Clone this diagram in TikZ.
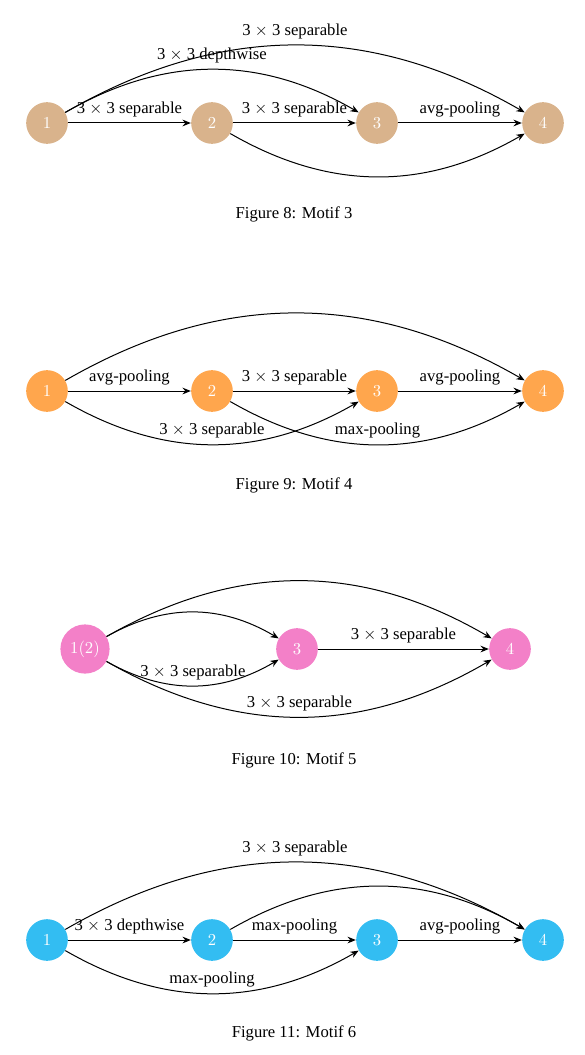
\documentclass[tikz,border=0pt]{standalone}
\usepackage{fontspec}
\setmainfont{Liberation Serif}
\usetikzlibrary{arrows.meta,positioning}
\definecolor{motiftan}{RGB}{217,179,140}
\definecolor{motiforange}{RGB}{255,166,77}
\definecolor{motifpink}{RGB}{243,128,200}
\definecolor{motifblue}{RGB}{51,189,242}
\newcommand{\sep}{3~$\times$~3 separable}
\newcommand{\dw}{3~$\times$~3 depthwise}

\tikzset{
  opnode/.style={circle, fill=#1, text=white, minimum size=25pt},
  oparrow/.style={-{Stealth[length=5pt,width=4pt]}, semithick},
  figcap/.style={font=\normalsize}
}

\begin{document}
\begin{tikzpicture}[x=0.6pt, y=-0.6pt]
  \useasboundingbox (0,0) rectangle (585,1055);

  % Motif 3
  \node[opnode=motiftan] (a1) at (47,123) {$1$};
  \node[opnode=motiftan] (a2) at (212,123) {$2$};
  \node[opnode=motiftan] (a3) at (377,123) {$3$};
  \node[opnode=motiftan] (a4) at (543,123) {$4$};
  \draw[oparrow] (a1) -- node[above] {\sep} (a2);
  \draw[oparrow] (a2) -- node[above] {\sep} (a3);
  \draw[oparrow] (a3) -- node[above] {avg-pooling} (a4);
  \draw[oparrow] (a1) to[bend left] node[above] {\dw} (a3);
  \draw[oparrow] (a1) to[bend left] node[above] {\sep} (a4);
  \draw[oparrow] (a2) to[bend right] (a4);
  \node[figcap] (capa) at (294,214) {Figure 8: Motif 3};

  % Motif 4
  \node[opnode=motiforange] (b1) at (47,391) {$1$};
  \node[opnode=motiforange] (b2) at (212,391) {$2$};
  \node[opnode=motiforange] (b3) at (377,391) {$3$};
  \node[opnode=motiforange] (b4) at (543,391) {$4$};
  \draw[oparrow] (b1) -- node[above] {avg-pooling} (b2);
  \draw[oparrow] (b2) -- node[above] {\sep} (b3);
  \draw[oparrow] (b3) -- node[above] {avg-pooling} (b4);
  \draw[oparrow] (b1) to[bend left] (b4);
  \draw[oparrow] (b1) to[bend right] node[above] {\sep} (b3);
  \draw[oparrow] (b2) to[bend right] node[above] {max-pooling} (b4);
  \node[figcap] (capb) at (294,485) {Figure 9: Motif 4};

  % Motif 5
  \node[opnode=motifpink] (c1) at (85,649) {$1(2)$};
  \node[opnode=motifpink] (c3) at (297,649) {$3$};
  \node[opnode=motifpink] (c4) at (510,649) {$4$};
  \draw[oparrow] (c3) -- node[above] {\sep} (c4);
  \draw[oparrow] (c1) to[bend left] (c3);
  \draw[oparrow] (c1) to[bend right] node[above] {\sep} (c3);
  \draw[oparrow] (c1) to[bend left] (c4);
  \draw[oparrow] (c1) to[bend right] node[above] {\sep} (c4);
  \node[figcap] (capc) at (294,760) {Figure 10: Motif 5};

  % Motif 6
  \node[opnode=motifblue] (d1) at (47,940) {$1$};
  \node[opnode=motifblue] (d2) at (212,940) {$2$};
  \node[opnode=motifblue] (d3) at (377,940) {$3$};
  \node[opnode=motifblue] (d4) at (543,940) {$4$};
  \draw[oparrow] (d1) -- node[above] {\dw} (d2);
  \draw[oparrow] (d2) -- node[above] {max-pooling} (d3);
  \draw[oparrow] (d3) -- node[above] {avg-pooling} (d4);
  \draw[oparrow] (d1) to[bend left] node[above] {\sep} (d4);
  \draw[oparrow] (d2) to[bend left] (d4);
  \draw[oparrow] (d1) to[bend right] node[above] {max-pooling} (d3);
  \node[figcap] (capd) at (294,1033) {Figure 11: Motif 6};
\end{tikzpicture}
\end{document}
